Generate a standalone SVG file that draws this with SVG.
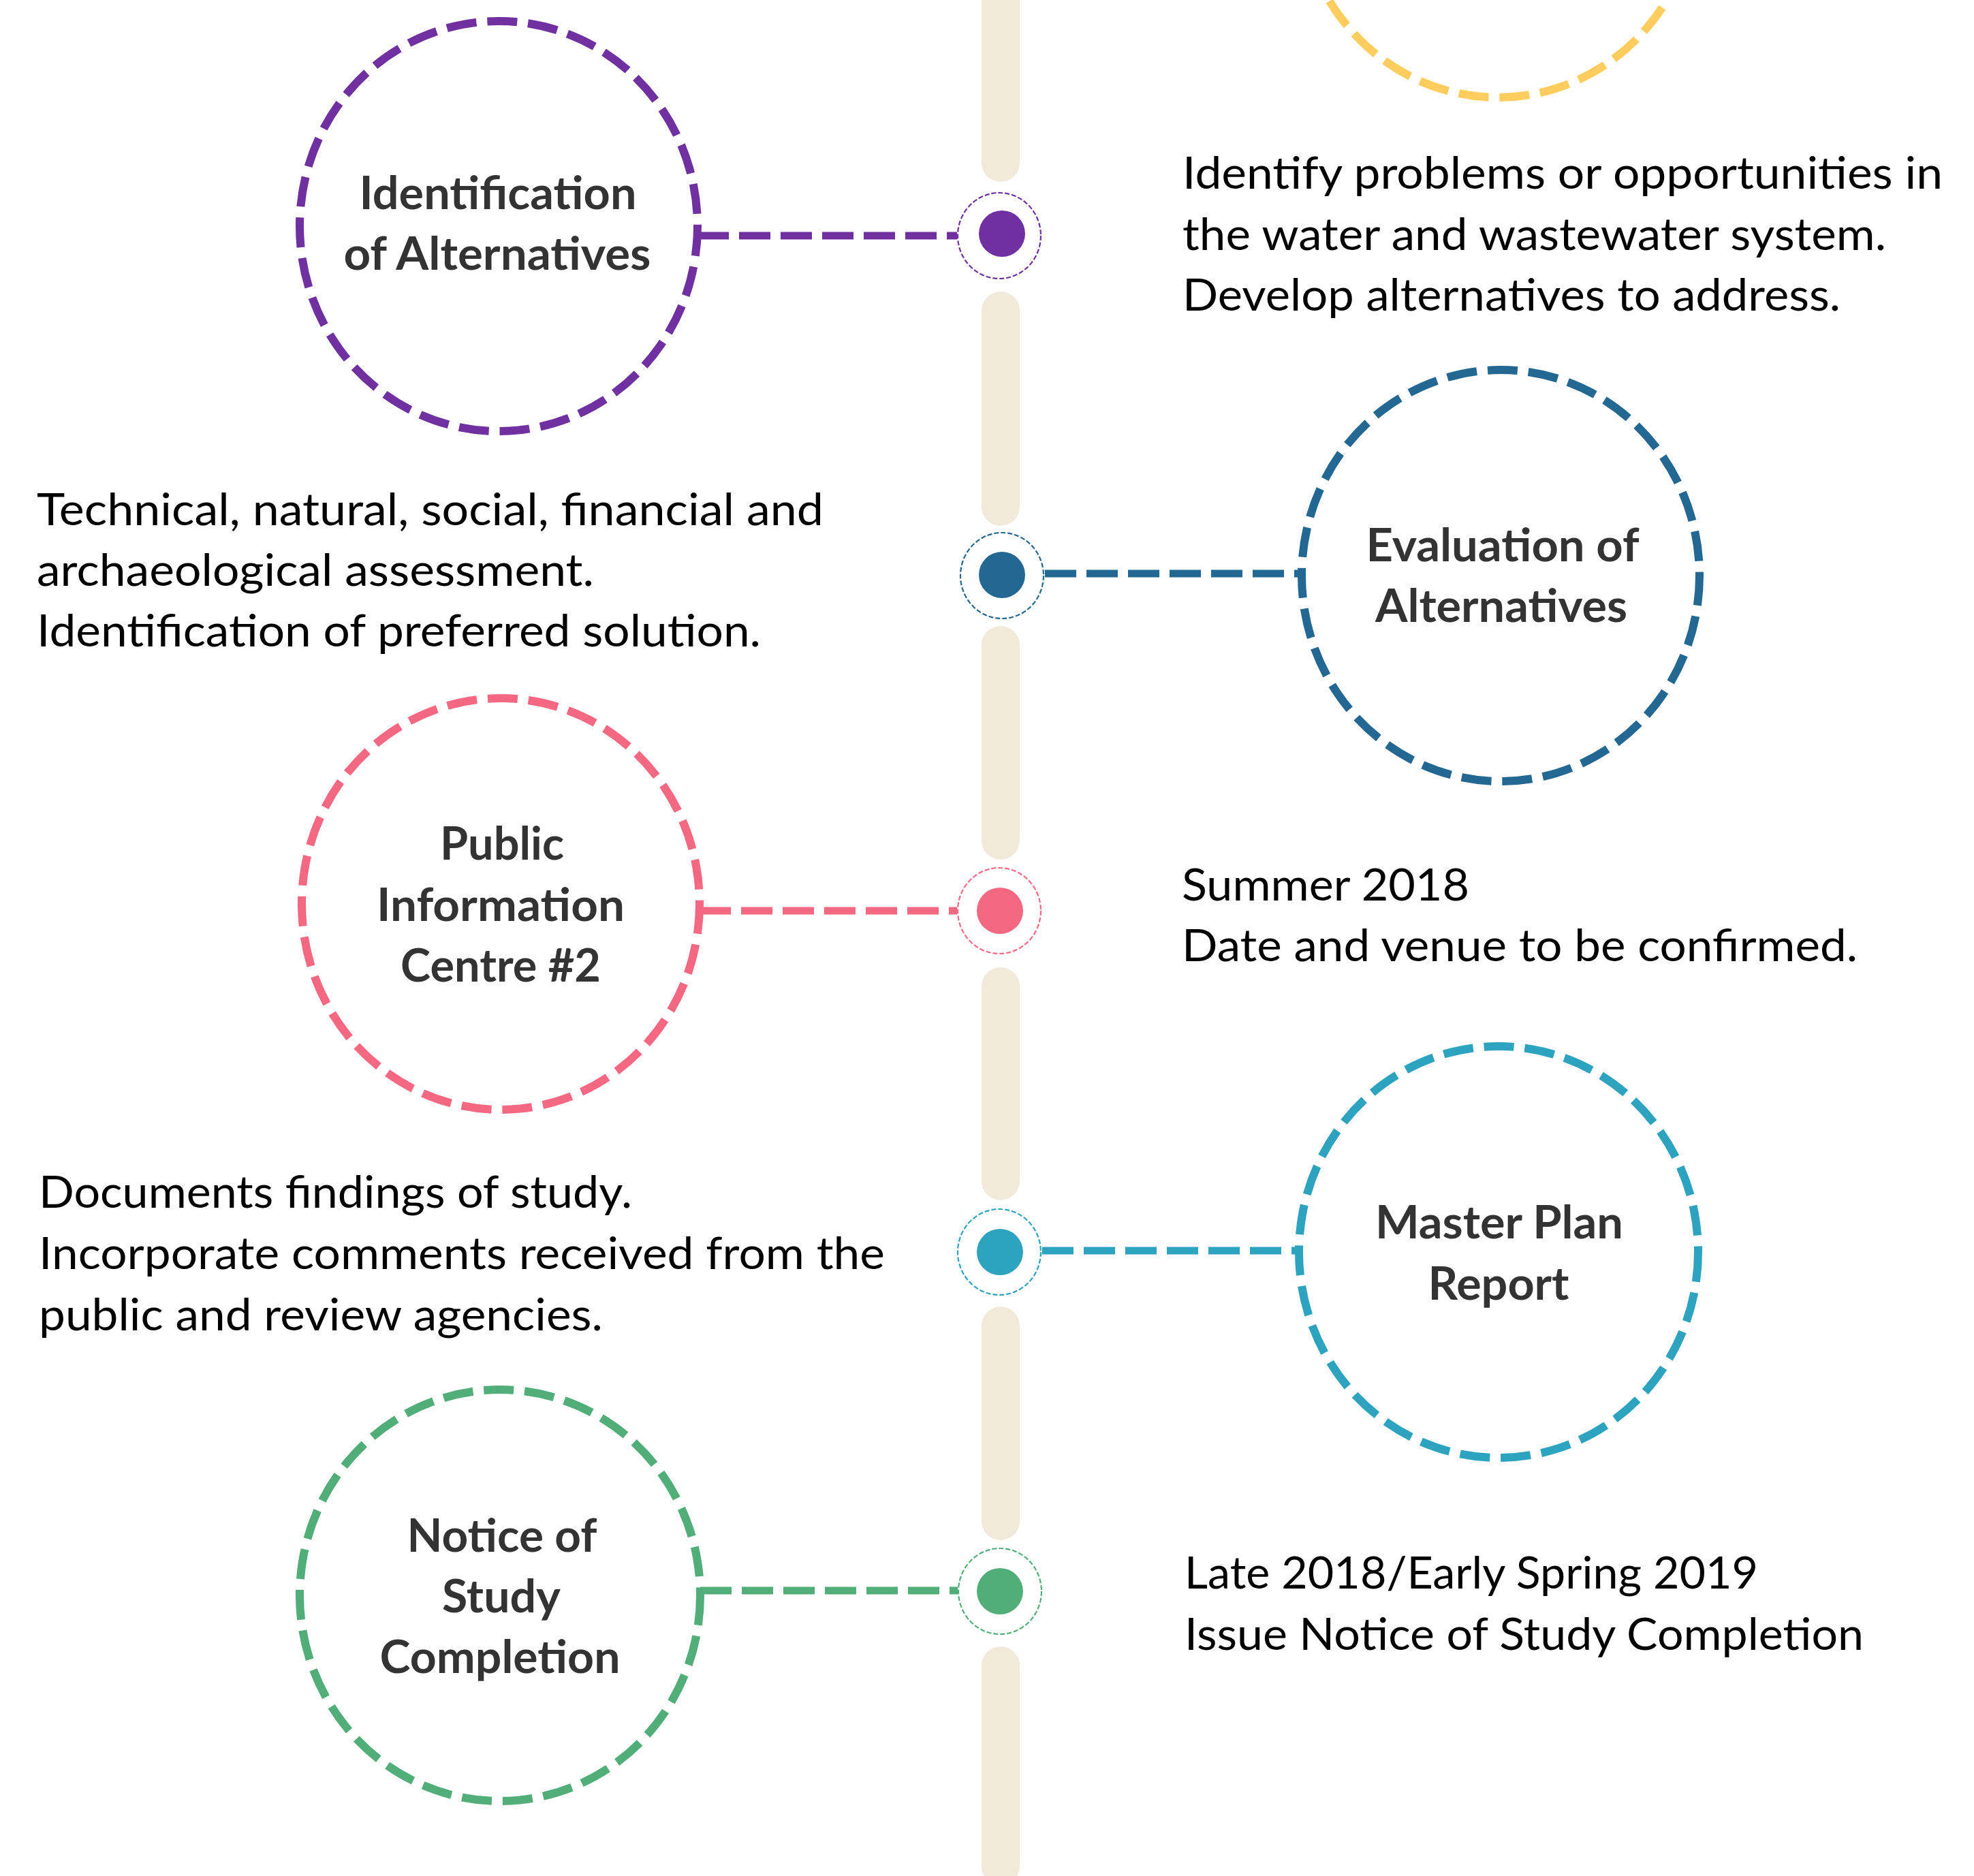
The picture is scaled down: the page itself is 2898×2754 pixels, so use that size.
<svg xmlns="http://www.w3.org/2000/svg" width="2898" height="2754" viewBox="0 0 2898 2754">
<style>
.ring{fill:none;stroke-width:12;stroke-dasharray:44 16}
.conn{fill:none;stroke-width:11;stroke-dasharray:46 15}
.halo{fill:none;stroke-width:2.2;stroke-dasharray:7 3}
.bar{fill:#F1EADB}
.label{font-family:Lato,"Open Sans","Liberation Sans",sans-serif;font-weight:700;font-size:66px;fill:#333333;text-anchor:middle}
.body{font-family:Lato,"Open Sans","Liberation Sans",sans-serif;font-weight:400;font-size:66px;fill:#000000}
.purple{stroke:#7030A0}.blue{stroke:#236892}.pink{stroke:#F56882}.teal{stroke:#2EA3C0}.green{stroke:#52AE79}.yellow{stroke:#FFCD5E}
</style>
<rect x="0" y="0" width="2898" height="2754" fill="#FFFFFF"/>
<g id="timeline">
<rect class="bar" x="1441" y="-60" width="56" height="327" rx="28"/>
<rect class="bar" x="1441" y="428" width="56" height="344" rx="28"/>
<rect class="bar" x="1441" y="919" width="56" height="343" rx="28"/>
<rect class="bar" x="1441" y="1420" width="56" height="342" rx="28"/>
<rect class="bar" x="1441" y="1918" width="56" height="343" rx="28"/>
<rect class="bar" x="1441" y="2417" width="56" height="351" rx="28"/>
</g>
<g id="connectors">
<line class="conn purple" x1="1024" y1="346" x2="1405" y2="346"/>
<line class="conn blue" x1="1534" y1="842" x2="1911" y2="842"/>
<line class="conn pink" x1="1027" y1="1337" x2="1405" y2="1337"/>
<line class="conn teal" x1="1530" y1="1836" x2="1908" y2="1836"/>
<line class="conn green" x1="1028" y1="2335" x2="1406" y2="2335"/>
</g>
<g id="node-yellow">
<ellipse class="ring yellow" cx="2199" cy="-159" rx="292" ry="302"/>
</g>
<g id="node-identification">
<ellipse class="ring purple" cx="732" cy="332" rx="292" ry="301"/>
<text class="label" x="731" y="307" textLength="407" lengthAdjust="spacingAndGlyphs">Identification</text>
<text class="label" x="730" y="396" textLength="451" lengthAdjust="spacingAndGlyphs">of Alternatives</text>
</g>
<g id="marker-1">
<ellipse class="halo purple" cx="1467" cy="346" rx="61" ry="63"/>
<circle cx="1471" cy="343" r="34" fill="#7030A0"/>
</g>
<g id="desc-1">
<text class="body" x="1736" y="277" textLength="1116" lengthAdjust="spacingAndGlyphs">Identify problems or opportunities in</text>
<text class="body" x="1736" y="367" textLength="1033" lengthAdjust="spacingAndGlyphs">the water and wastewater system.</text>
<text class="body" x="1736" y="456" textLength="966" lengthAdjust="spacingAndGlyphs">Develop alternatives to address.</text>
</g>
<g id="node-evaluation">
<ellipse class="ring blue" cx="2203" cy="845" rx="292" ry="302"/>
<text class="label" x="2206" y="824" textLength="401" lengthAdjust="spacingAndGlyphs">Evaluation of</text>
<text class="label" x="2204" y="913" textLength="370" lengthAdjust="spacingAndGlyphs">Alternatives</text>
</g>
<g id="marker-2">
<ellipse class="halo blue" cx="1471" cy="845" rx="61" ry="63"/>
<circle cx="1471" cy="844" r="34" fill="#236892"/>
</g>
<g id="desc-2">
<text class="body" x="54" y="771" textLength="1155" lengthAdjust="spacingAndGlyphs">Technical, natural, social, financial and</text>
<text class="body" x="54" y="860" textLength="818" lengthAdjust="spacingAndGlyphs">archaeological assessment.</text>
<text class="body" x="54" y="949" textLength="1063" lengthAdjust="spacingAndGlyphs">Identification of preferred solution.</text>
</g>
<g id="node-pic2">
<ellipse class="ring pink" cx="735" cy="1327" rx="292" ry="302"/>
<text class="label" x="737" y="1262" textLength="182" lengthAdjust="spacingAndGlyphs">Public</text>
<text class="label" x="735" y="1352" textLength="364" lengthAdjust="spacingAndGlyphs">Information</text>
<text class="label" x="735" y="1441" textLength="294" lengthAdjust="spacingAndGlyphs">Centre #2</text>
</g>
<g id="marker-3">
<ellipse class="halo pink" cx="1467" cy="1337" rx="61" ry="63"/>
<circle cx="1468" cy="1337" r="34" fill="#F56882"/>
</g>
<g id="desc-3">
<text class="body" x="1735" y="1322" textLength="422" lengthAdjust="spacingAndGlyphs">Summer 2018</text>
<text class="body" x="1735" y="1411" textLength="992" lengthAdjust="spacingAndGlyphs">Date and venue to be confirmed.</text>
</g>
<g id="node-master-plan">
<ellipse class="ring teal" cx="2200" cy="1838" rx="293" ry="302"/>
<text class="label" x="2201" y="1818" textLength="364" lengthAdjust="spacingAndGlyphs">Master Plan</text>
<text class="label" x="2200" y="1908" textLength="207" lengthAdjust="spacingAndGlyphs">Report</text>
</g>
<g id="marker-4">
<ellipse class="halo teal" cx="1467" cy="1838" rx="61" ry="63"/>
<circle cx="1468" cy="1838" r="34" fill="#2EA3C0"/>
</g>
<g id="desc-4">
<text class="body" x="57" y="1773" textLength="871" lengthAdjust="spacingAndGlyphs">Documents findings of study.</text>
<text class="body" x="57" y="1863" textLength="1242" lengthAdjust="spacingAndGlyphs">Incorporate comments received from the</text>
<text class="body" x="57" y="1953" textLength="828" lengthAdjust="spacingAndGlyphs">public and review agencies.</text>
</g>
<g id="node-notice">
<ellipse class="ring green" cx="734" cy="2342" rx="294" ry="302"/>
<text class="label" x="737" y="2278" textLength="279" lengthAdjust="spacingAndGlyphs">Notice of</text>
<text class="label" x="736" y="2367" textLength="174" lengthAdjust="spacingAndGlyphs">Study</text>
<text class="label" x="734" y="2456" textLength="353" lengthAdjust="spacingAndGlyphs">Completion</text>
</g>
<g id="marker-5">
<ellipse class="halo green" cx="1468" cy="2336" rx="61" ry="63"/>
<circle cx="1468" cy="2336" r="34" fill="#52AE79"/>
</g>
<g id="desc-5">
<text class="body" x="1739" y="2332" textLength="842" lengthAdjust="spacingAndGlyphs">Late 2018/Early Spring 2019</text>
<text class="body" x="1739" y="2422" textLength="997" lengthAdjust="spacingAndGlyphs">Issue Notice of Study Completion</text>
</g>
</svg>
